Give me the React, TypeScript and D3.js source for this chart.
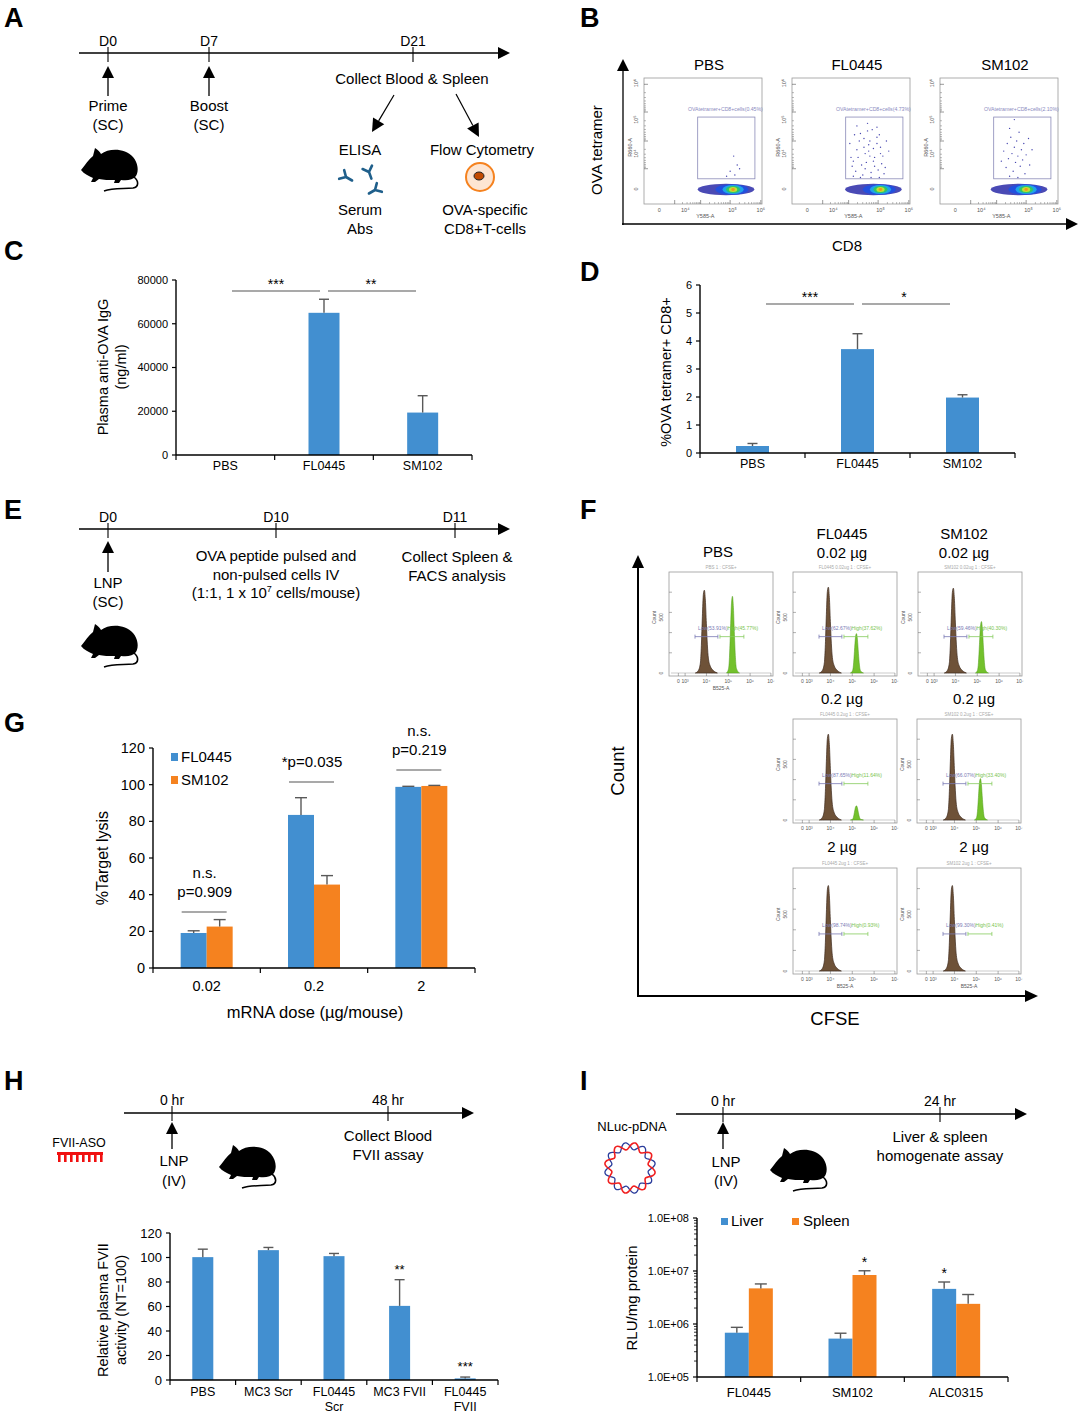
import React from 'react';
import * as d3 from 'd3';

const FONT = "'Liberation Sans', Arial, sans-serif";
const BLUE = '#428fd0';
const ORANGE = '#f5821f';
const ERRC = '#595959';

// C: plasma anti-OVA IgG (ng/ml)
const cGroups = ['PBS', 'FL0445', 'SM102'];
const cMeans = [0, 65000, 19400];
const cErr = [0, 6200, 7700];
const cTicks = [0, 20000, 40000, 60000, 80000];

// D: %OVA tetramer+ CD8+
const dGroups = ['PBS', 'FL0445', 'SM102'];
const dMeans = [0.25, 3.71, 1.98];
const dErr = [0.09, 0.55, 0.1];
const dTicks = [0, 1, 2, 3, 4, 5, 6];

// G: %target lysis
const gDoses = ['0.02', '0.2', '2'];
const gSeriesNames = ['FL0445', 'SM102'];
const gFL0445 = [19.1, 83.5, 98.8];
const gFL0445Err = [1.2, 9.4, 0.3];
const gSM102 = [22.6, 45.5, 99.3];
const gSM102Err = [3.8, 4.9, 0.3];
const gTicks = [0, 20, 40, 60, 80, 100, 120];
const gStats = [['n.s.', 'p=0.909'], ['*p=0.035'], ['n.s.', 'p=0.219']];

// H: relative plasma FVII activity
const hGroups = [['PBS'], ['MC3 Scr'], ['FL0445', 'Scr'], ['MC3 FVII'], ['FL0445', 'FVII']];
const hMeans = [100.3, 106, 101.1, 60.5, 1.3];
const hErr = [6.5, 2.2, 2.2, 21.4, 1.1];
const hStars = ['', '', '', '**', '***'];
const hTicks = [0, 20, 40, 60, 80, 100, 120];

// I: RLU/mg protein (log)
const iGroups = ['FL0445', 'SM102', 'ALC0315'];
const iSeriesNames = ['Liver', 'Spleen'];
const iLiver = [6.85e5, 5.3e5, 4.6e6];
const iLiverErr = [1.8e5, 1.4e5, 1.6e6];
const iSpleen = [4.7e6, 8.4e6, 2.4e6];
const iSpleenErr = [1.0e6, 1.7e6, 1.2e6];
const iStarsLiver = ['', '', '*'];
const iStarsSpleen = ['', '*', ''];
const iTicks = [1e5, 1e6, 1e7, 1e8];

// B: flow plots
const bTitles = ['PBS', 'FL0445', 'SM102'];
const bGatePct = ['0.45', '4.73', '2.10'];
const bBlobX = [0.755, 0.75, 0.73];
const bGateEvents = [
  [[0.76, 0.62], [0.79, 0.69], [0.73, 0.74], [0.81, 0.72], [0.70, 0.78], [0.77, 0.77]],
  [[0.49, 0.52], [0.50, 0.63], [0.51, 0.70], [0.53, 0.45], [0.52, 0.66], [0.55, 0.57], [0.54, 0.74], [0.57, 0.50],
   [0.56, 0.63], [0.59, 0.69], [0.58, 0.44], [0.61, 0.55], [0.60, 0.77], [0.62, 0.60], [0.61, 0.48], [0.63, 0.67],
   [0.62, 0.72], [0.65, 0.53], [0.64, 0.42], [0.66, 0.62], [0.65, 0.58], [0.67, 0.75], [0.66, 0.50], [0.69, 0.66],
   [0.68, 0.41], [0.70, 0.70], [0.69, 0.56], [0.72, 0.47], [0.70, 0.63], [0.73, 0.73], [0.72, 0.52], [0.75, 0.60],
   [0.74, 0.45], [0.76, 0.68], [0.75, 0.55], [0.78, 0.76], [0.77, 0.62], [0.80, 0.50], [0.79, 0.71], [0.82, 0.58],
   [0.52, 0.78], [0.58, 0.79], [0.67, 0.79], [0.74, 0.79], [0.55, 0.38], [0.72, 0.39], [0.64, 0.36]],
  [[0.52, 0.66], [0.54, 0.58], [0.56, 0.71], [0.57, 0.52], [0.58, 0.64], [0.60, 0.47], [0.61, 0.60], [0.62, 0.74],
   [0.63, 0.55], [0.64, 0.67], [0.65, 0.50], [0.66, 0.62], [0.67, 0.43], [0.68, 0.70], [0.69, 0.57], [0.70, 0.65],
   [0.71, 0.52], [0.72, 0.76], [0.73, 0.61], [0.75, 0.48], [0.76, 0.69], [0.78, 0.57], [0.59, 0.78], [0.66, 0.79],
   [0.59, 0.40], [0.63, 0.33]],
];

// F: CFSE histograms (PBS, FL 0.02, SM 0.02, FL 0.2, SM 0.2, FL 2, SM 2)
const fHeaders = ['PBS 1 : CFSE+', 'FL0445 0.02ug 1 : CFSE+', 'SM102 0.02ug 1 : CFSE+', 'FL0445 0.2ug 1 : CFSE+',
  'SM102 0.2ug 1 : CFSE+', 'FL0445 2ug 1 : CFSE+', 'SM102 2ug 1 : CFSE+'];
const fLowPeak = [0.82, 0.85, 0.84, 0.85, 0.85, 0.83, 0.83];
const fHighPeak = [0.76, 0.39, 0.51, 0.14, 0.41, 0.0, 0.0];
const fLowPct = ['53.91', '62.67', '59.46', '87.65', '66.07', '98.74', '99.30'];
const fHighPct = ['45.77', '37.62', '40.30', '11.64', '33.40', '0.93', '0.41'];
// peak outlines: [px offset from mode, fraction of peak height]
const brownShape = [[-9, 0], [-6, 0.03], [-4, 0.12], [-3, 0.33], [-2, 0.68], [-1, 0.95], [0, 1], [1, 0.88],
  [2, 0.6], [3, 0.34], [4, 0.18], [6, 0.08], [9, 0.03], [13, 0]];
const greenShape = [[-6, 0], [-4, 0.05], [-3, 0.2], [-2, 0.55], [-1, 0.9], [0, 1], [1, 0.85], [2, 0.5],
  [3, 0.2], [4, 0.06], [7, 0]];

const txt = (x, y, s, size = 15, anchor = 'middle', extra = {}) => (
  <text x={x} y={y} fontSize={size} textAnchor={anchor} fontFamily={FONT} {...extra}>{s}</text>
);

function Letter({ x, y, t }) {
  return <text x={x} y={y} fontSize={27} fontWeight="bold" fontFamily={FONT}>{t}</text>;
}

function HArrow({ x0, x1, y, head = 12, w = 1.3 }) {
  return (
    <g>
      <line x1={x0} x2={x1 - head + 1} y1={y} y2={y} stroke="#000" strokeWidth={w} />
      <polygon points={`${x1},${y} ${x1 - head},${y - 6} ${x1 - head},${y + 6}`} fill="#000" />
    </g>
  );
}

function UpArrow({ x, tip, bottom, head = 12, w = 1.3 }) {
  return (
    <g>
      <line x1={x} x2={x} y1={tip + head - 1} y2={bottom} stroke="#000" strokeWidth={w} />
      <polygon points={`${x},${tip} ${x - 6},${tip + head} ${x + 6},${tip + head}`} fill="#000" />
    </g>
  );
}

function Arrow({ x0, y0, x1, y1, head = 13 }) {
  const a = Math.atan2(y1 - y0, x1 - x0);
  const bx = x1 - head * Math.cos(a), by = y1 - head * Math.sin(a);
  const nx = -Math.sin(a) * 6.5, ny = Math.cos(a) * 6.5;
  return (
    <g>
      <line x1={x0} y1={y0} x2={bx} y2={by} stroke="#000" strokeWidth={1.2} />
      <polygon points={`${x1},${y1} ${bx + nx},${by + ny} ${bx - nx},${by - ny}`} fill="#000" />
    </g>
  );
}

function Mouse({ x, y, s = 1 }) {
  return (
    <g transform={`translate(${x},${y}) scale(${s})`}>
      <path d="M2,27 C6,22 10,16 14,13 L16,5 C19,7 21,9 22,11 C30,5 46,5 54,14 C59,20 60,28 57,33 C54,37 48,38 42,37 L40,40 L35,40 L36,37 C30,37 24,37 20,36 L16,39 L12,39 L14,35 C10,33 5,31 2,27 Z" fill="#000" />
      <path d="M55,34 C60,38 60,44 54,45 C44,46 34,45 25,48" fill="none" stroke="#000" strokeWidth={1.6} />
    </g>
  );
}

function TickMark({ x, y, label }) {
  return (
    <g>
      <line x1={x} x2={x} y1={y - 7} y2={y + 8} stroke="#000" strokeWidth={1.1} />
      {txt(x, y - 8, label, 14)}
    </g>
  );
}

function Antibody({ x, y, r }) {
  return (
    <g transform={`translate(${x},${y}) rotate(${r})`} stroke="#1f5f8b" strokeWidth={2.6} strokeLinecap="round" fill="none">
      <path d="M0,0 L0,7 M0,0 L-5,-5 M0,0 L5,-5" />
    </g>
  );
}

function PanelA() {
  return (
    <g>
      <Letter x={4} y={27} t="A" />
      <HArrow x0={79} x1={510} y={53} />
      <TickMark x={108} y={54} label="D0" />
      <TickMark x={209} y={54} label="D7" />
      <TickMark x={413} y={54} label="D21" />
      <UpArrow x={108} tip={66} bottom={96} />
      <UpArrow x={209} tip={66} bottom={96} />
      {txt(108, 111, 'Prime')}
      {txt(108, 130, '(SC)')}
      {txt(209, 111, 'Boost')}
      {txt(209, 130, '(SC)')}
      <Mouse x={79} y={143} />
      {txt(412, 84, 'Collect Blood & Spleen')}
      <Arrow x0={394} y0={95} x1={372} y1={132} />
      <Arrow x0={456} y0={94} x1={479} y1={137} />
      {txt(360, 155, 'ELISA')}
      {txt(482, 155, 'Flow Cytometry')}
      <Antibody x={346} y={177} r={-60} />
      <Antibody x={369} y={172} r={-20} />
      <Antibody x={375} y={190} r={60} />
      <circle cx={480} cy={177} r={14} fill="#fde5d2" stroke={ORANGE} strokeWidth={2} />
      <ellipse cx={479} cy={176} rx={5} ry={4} fill="#c24a00" stroke="#222" strokeWidth={1} />
      {txt(360, 215, 'Serum')}
      {txt(360, 234, 'Abs')}
      {txt(485, 215, 'OVA-specific')}
      {txt(485, 234, 'CD8+T-cells')}
    </g>
  );
}

function FlowPlot({ left, i }) {
  const top = 78, w = 118, h = 126;
  const fx = d3.scaleLinear().domain([0, 1]).range([left, left + w]);
  const fy = d3.scaleLinear().domain([0, 1]).range([top, top + h]);
  const decades = [0.26, 0.48, 0.73, 0.99];
  const minor = [];
  for (let d = 0; d < 3; d++) {
    for (let m = 2; m < 10; m++) minor.push(decades[d] + (decades[d + 1] - decades[d]) * Math.log10(m));
  }
  const ydec = [0.05, 0.27, 0.5, 0.72];
  const bx = bBlobX[i];
  const layers = [
    { rx: 0.24, ry: 0.045, c: '#2a2aa8', dx: -0.06 },
    { rx: 0.14, ry: 0.042, c: '#2050e0', dx: -0.01 },
    { rx: 0.09, ry: 0.036, c: '#20a8e8', dx: 0 },
    { rx: 0.06, ry: 0.028, c: '#30c860', dx: 0 },
    { rx: 0.035, ry: 0.02, c: '#c8e030', dx: 0 },
    { rx: 0.015, ry: 0.011, c: '#f09020', dx: 0 },
  ];
  return (
    <g>
      {txt(fx(0.55), 70, bTitles[i], 15)}
      <rect x={left} y={top} width={w} height={h} fill="#fff" stroke="#999" strokeWidth={0.8} />
      {minor.map((m, k) => (
        <line key={'mx' + k} x1={fx(m)} x2={fx(m)} y1={top + h} y2={top + h - 2} stroke="#777" strokeWidth={0.5} />
      ))}
      {decades.map((m, k) => (
        <line key={'dx' + k} x1={fx(m)} x2={fx(m)} y1={top + h} y2={top + h - 4} stroke="#555" strokeWidth={0.6} />
      ))}
      {ydec.map((m, k) => (
        <line key={'dy' + k} x1={left} x2={left + 4} y1={fy(m)} y2={fy(m)} stroke="#555" strokeWidth={0.6} />
      ))}
      {ydec.slice(0, 3).flatMap((m, k) => [2, 3, 4, 5, 6, 7, 8, 9].map(v => (
        <line key={'my' + k + v} x1={left} x2={left + 2} y1={fy(m + (ydec[k + 1] - m) * Math.log10(v))}
          y2={fy(m + (ydec[k + 1] - m) * Math.log10(v))} stroke="#777" strokeWidth={0.5} />
      )))}
      {['0', '10⁴', '10⁵', '10⁶'].map((l, k) => (
        <text key={'xl' + k} x={fx([0.13, 0.35, 0.75, 0.99][k])} y={top + h + 8} fontSize={5.5} textAnchor="middle" fill="#555" fontFamily={FONT}>{l}</text>
      ))}
      {txt(fx(0.52), top + h + 14, 'Y585-A', 5.5, 'middle', { fill: '#555' })}
      {['10⁶', '10⁵', '10⁴', '0'].map((l, k) => (
        <text key={'yl' + k} x={left - 6} y={fy([0.04, 0.33, 0.6, 0.88][k])} fontSize={5.5} textAnchor="middle" fill="#555"
          fontFamily={FONT} transform={`rotate(-90 ${left - 6} ${fy([0.04, 0.33, 0.6, 0.88][k])})`}>{l}</text>
      ))}
      <text x={left - 12} y={fy(0.55)} fontSize={5.5} textAnchor="middle" fill="#555" fontFamily={FONT}
        transform={`rotate(-90 ${left - 12} ${fy(0.55)})`}>R660-A</text>
      {txt(fx(0.69), fy(0.265), `OVAtetramer+CD8+cells(${bGatePct[i]}%)`, 5.2, 'middle', { fill: '#8a8ac0' })}
      <rect x={fx(0.455)} y={fy(0.31)} width={fx(0.94) - fx(0.455)} height={fy(0.8) - fy(0.31)} fill="none" stroke="#8a8ab8" strokeWidth={0.8} />
      {layers.map((l, k) => (
        <ellipse key={'b' + k} cx={fx(bx + l.dx)} cy={fy(0.885)} rx={l.rx * w} ry={l.ry * h} fill={l.c} opacity={k === 0 ? 0.85 : 0.95} />
      ))}
      {bGateEvents[i].map((p, k) => (
        <circle key={'e' + k} cx={fx(p[0])} cy={fy(p[1])} r={0.7} fill="#4848b0" />
      ))}
    </g>
  );
}

function PanelB() {
  return (
    <g>
      <Letter x={580} y={27} t="B" />
      <UpArrow x={623} tip={59} bottom={225} />
      <HArrow x0={622} x1={1078} y={224} />
      <text x={602} y={150} fontSize={15} textAnchor="middle" fontFamily={FONT} transform="rotate(-90 602 150)">OVA tetramer</text>
      {txt(847, 251, 'CD8', 15)}
      {[644, 792, 940].map((l, i) => <FlowPlot key={i} left={l} i={i} />)}
    </g>
  );
}

function ErrBar({ cx, y0, y1, cap = 5 }) {
  return (
    <g stroke={ERRC} strokeWidth={1.4}>
      <line x1={cx} x2={cx} y1={y0} y2={y1} />
      <line x1={cx - cap} x2={cx + cap} y1={y1} y2={y1} />
    </g>
  );
}

function YAxis({ x, y, ticks, fmt, size }) {
  const [b, t] = y.range();
  return (
    <g>
      <line x1={x} x2={x} y1={b} y2={t} stroke="#000" strokeWidth={1.4} />
      {ticks.map(v => (
        <g key={v}>
          <line x1={x - 4} x2={x} y1={y(v)} y2={y(v)} stroke="#000" strokeWidth={1.2} />
          <text x={x - 8} y={y(v)} dy="0.35em" textAnchor="end" fontSize={size} fontFamily={FONT}>{fmt(v)}</text>
        </g>
      ))}
    </g>
  );
}

function XAxis({ x, y0, size, labels, dy = 15 }) {
  const [l, r] = x.range();
  const bw = x.bandwidth();
  return (
    <g>
      <line x1={l} x2={r} y1={y0} y2={y0} stroke="#000" strokeWidth={1.6} />
      {x.domain().map(d => (
        <line key={'t' + d} x1={x(d)} x2={x(d)} y1={y0} y2={y0 + 5} stroke="#000" strokeWidth={1.2} />
      ))}
      <line x1={r} x2={r} y1={y0} y2={y0 + 5} stroke="#000" strokeWidth={1.2} />
      {x.domain().map((d, i) => (
        <text key={'l' + d} x={x(d) + bw / 2} y={y0 + dy} fontSize={size} textAnchor="middle" fontFamily={FONT}>
          {(labels ? labels[i] : [d]).map((s, k) => <tspan key={k} x={x(d) + bw / 2} dy={k === 0 ? 0 : size * 1.2}>{s}</tspan>)}
        </text>
      ))}
    </g>
  );
}

function PanelC() {
  const x = d3.scaleBand().domain(cGroups).range([176, 472]);
  const y = d3.scaleLinear().domain([0, 80000]).range([455, 280]);
  const bw = 31;
  const cx = g => x(g) + x.bandwidth() / 2;
  return (
    <g>
      <Letter x={4} y={260} t="C" />
      {cGroups.map((g, i) => cMeans[i] > 0 && (
        <g key={g}>
          <rect x={cx(g) - bw / 2} y={y(cMeans[i])} width={bw} height={y(0) - y(cMeans[i])} fill={BLUE} />
          <ErrBar cx={cx(g)} y0={y(cMeans[i])} y1={y(cMeans[i] + cErr[i])} />
        </g>
      ))}
      <YAxis x={176} y={y} ticks={cTicks} fmt={v => String(v)} size={11} />
      <XAxis x={x} y0={455} size={12.5} />
      <line x1={232} x2={320} y1={291} y2={291} stroke="#555" strokeWidth={1.1} />
      <line x1={328} x2={416} y1={291} y2={291} stroke="#555" strokeWidth={1.1} />
      {txt(276, 289, '***', 14)}
      {txt(371, 289, '**', 14)}
      <text fontSize={14.5} textAnchor="middle" fontFamily={FONT} transform="translate(108,367) rotate(-90)">
        <tspan x={0} y={0}>Plasma anti-OVA IgG</tspan>
        <tspan x={0} y={18}>(ng/ml)</tspan>
      </text>
    </g>
  );
}

function PanelD() {
  const x = d3.scaleBand().domain(dGroups).range([700, 1015]);
  const y = d3.scaleLinear().domain([0, 6]).range([453, 285]);
  const bw = 33;
  const cx = g => x(g) + x.bandwidth() / 2;
  return (
    <g>
      <Letter x={580} y={281} t="D" />
      {dGroups.map((g, i) => (
        <g key={g}>
          <rect x={cx(g) - bw / 2} y={y(dMeans[i])} width={bw} height={y(0) - y(dMeans[i])} fill={BLUE} />
          <ErrBar cx={cx(g)} y0={y(dMeans[i])} y1={y(dMeans[i] + dErr[i])} />
        </g>
      ))}
      <YAxis x={700} y={y} ticks={dTicks} fmt={v => String(v)} size={11} />
      <XAxis x={x} y0={453} size={12.5} />
      <line x1={766} x2={854} y1={304} y2={304} stroke="#555" strokeWidth={1.1} />
      <line x1={862} x2={950} y1={304} y2={304} stroke="#555" strokeWidth={1.1} />
      {txt(810, 302, '***', 14)}
      {txt(904, 302, '*', 14)}
      <text x={671} y={372} fontSize={14.5} textAnchor="middle" fontFamily={FONT} transform="rotate(-90 671 372)">%OVA tetramer+ CD8+</text>
    </g>
  );
}

function PanelE() {
  return (
    <g>
      <Letter x={4} y={519} t="E" />
      <HArrow x0={79} x1={510} y={529} />
      <TickMark x={108} y={530} label="D0" />
      <TickMark x={276} y={530} label="D10" />
      <TickMark x={455} y={530} label="D11" />
      <UpArrow x={108} tip={541} bottom={572} />
      {txt(108, 588, 'LNP')}
      {txt(108, 607, '(SC)')}
      <Mouse x={79} y={619} />
      {txt(276, 561, 'OVA peptide pulsed and')}
      {txt(276, 580, 'non-pulsed cells IV')}
      <text x={276} y={598} fontSize={15} textAnchor="middle" fontFamily={FONT}>
        (1:1, 1 x 10<tspan fontSize={9} dy={-6}>7</tspan><tspan dy={6}> cells/mouse)</tspan>
      </text>
      {txt(457, 562, 'Collect Spleen &')}
      {txt(457, 581, 'FACS analysis')}
    </g>
  );
}

function Hist({ left, top, i, h = 104, xLabel = false }) {
  const w = 104;
  const base = top + h - 3;
  const px = d3.scaleLinear().domain([0, 1]).range([left, left + w]);
  const py = d3.scaleLinear().domain([0, 1]).range([base, top]);
  const peak = (center, height, shape) => d3.area()
    .x(d => px(center) + d[0])
    .y0(base)
    .y1(d => py(height * d[1]))
    .curve(d3.curveMonotoneX)(shape);
  const xt = [0.09, 0.155, 0.36, 0.57, 0.78, 0.98];
  const xtl = ['0', '10³', '10⁴', '10⁵', '10⁶', '10⁷'];
  return (
    <g>
      {txt(px(0.5), top - 3, fHeaders[i], 4.5, 'middle', { fill: '#aaa' })}
      <rect x={left} y={top} width={w} height={h} fill="#fff" stroke="#999" strokeWidth={0.8} />
      <line x1={left + 2} x2={left + w - 2} y1={base} y2={base} stroke="#aaa" strokeWidth={0.6} />
      {xt.map((t, k) => (
        <g key={k}>
          <line x1={px(t)} x2={px(t)} y1={top + h} y2={top + h - 3} stroke="#666" strokeWidth={0.5} />
          <text x={px(t)} y={top + h + 7} fontSize={5} textAnchor="middle" fill="#555" fontFamily={FONT}>{xtl[k]}</text>
        </g>
      ))}
      {[0.2, 0.4, 0.6, 0.8].map(t => (
        <line key={t} x1={left} x2={left + 3} y1={py(t)} y2={py(t)} stroke="#666" strokeWidth={0.5} />
      ))}
      {xLabel && txt(px(0.5), top + h + 14, 'B525-A', 5, 'middle', { fill: '#555' })}
      <text x={left - 6} y={py(0.55)} fontSize={5} textAnchor="middle" fill="#555" fontFamily={FONT}
        transform={`rotate(-90 ${left - 6} ${py(0.55)})`}>500</text>
      <text x={left - 6} y={base} fontSize={5} textAnchor="middle" fill="#555" fontFamily={FONT}
        transform={`rotate(-90 ${left - 6} ${base})`}>0</text>
      <text x={left - 13} y={py(0.55)} fontSize={5} textAnchor="middle" fill="#555" fontFamily={FONT}
        transform={`rotate(-90 ${left - 13} ${py(0.55)})`}>Count</text>
      <path d={peak(0.34, fLowPeak[i], brownShape)} fill="#6e5238" stroke="#3d2a1c" strokeWidth={0.7} />
      {fHighPeak[i] > 0 && <path d={peak(0.61, fHighPeak[i], greenShape)} fill="#73c12c" stroke="#4f9a18" strokeWidth={0.5} />}
      <g stroke="#7a7ab4" strokeWidth={0.8}>
        <line x1={px(0.25)} x2={px(0.47)} y1={py(0.36)} y2={py(0.36)} />
        <line x1={px(0.25)} x2={px(0.25)} y1={py(0.36) - 2} y2={py(0.36) + 2} />
        <line x1={px(0.47)} x2={px(0.47)} y1={py(0.36) - 2} y2={py(0.36) + 2} />
      </g>
      <g stroke="#86cc5e" strokeWidth={0.8}>
        <line x1={px(0.49)} x2={px(0.72)} y1={py(0.36)} y2={py(0.36)} />
        <line x1={px(0.49)} x2={px(0.49)} y1={py(0.36) - 2} y2={py(0.36) + 2} />
        <line x1={px(0.72)} x2={px(0.72)} y1={py(0.36) - 2} y2={py(0.36) + 2} />
      </g>
      <text x={px(0.28)} y={py(0.43)} fontSize={5} fontFamily={FONT}>
        <tspan fill="#7a7ab4">Low({fLowPct[i]}%)</tspan><tspan fill="#79c44e">High({fHighPct[i]}%)</tspan>
      </text>
    </g>
  );
}

function PanelF() {
  return (
    <g>
      <Letter x={580} y={519} t="F" />
      <UpArrow x={638} tip={555} bottom={996} head={13} w={2} />
      <HArrow x0={637} x1={1038} y={996} head={13} w={2} />
      <text x={624} y={771} fontSize={18.5} textAnchor="middle" fontFamily={FONT} transform="rotate(-90 624 771)">Count</text>
      {txt(835, 1025, 'CFSE', 18.5)}
      {txt(718, 557, 'PBS')}
      {txt(842, 539, 'FL0445')}
      {txt(842, 558, '0.02 µg')}
      {txt(964, 539, 'SM102')}
      {txt(964, 558, '0.02 µg')}
      {txt(842, 704, '0.2 µg')}
      {txt(974, 704, '0.2 µg')}
      {txt(842, 852, '2 µg')}
      {txt(974, 852, '2 µg')}
      <Hist left={669} top={572} i={0} xLabel />
      <Hist left={793} top={572} i={1} />
      <Hist left={918} top={572} i={2} />
      <Hist left={793} top={719} i={3} />
      <Hist left={917} top={719} i={4} />
      <Hist left={793} top={868} i={5} h={106} xLabel />
      <Hist left={917} top={868} i={6} h={106} xLabel />
    </g>
  );
}

function PanelG() {
  const x = d3.scaleBand().domain(gDoses).range([153, 475]);
  const y = d3.scaleLinear().domain([0, 120]).range([968, 748]);
  const bw = 26;
  const series = [
    { v: gFL0445, e: gFL0445Err, c: BLUE },
    { v: gSM102, e: gSM102Err, c: ORANGE },
  ];
  const cx = g => x(g) + x.bandwidth() / 2;
  return (
    <g>
      <Letter x={4} y={732} t="G" />
      {series.map((s, si) => gDoses.map((g, i) => {
        const left = cx(g) - bw + si * bw;
        return (
          <g key={si + g}>
            <rect x={left} y={y(s.v[i])} width={bw} height={y(0) - y(s.v[i])} fill={s.c} />
            <ErrBar cx={left + bw / 2} y0={y(s.v[i])} y1={y(s.v[i] + s.e[i])} cap={6} />
          </g>
        );
      }))}
      <YAxis x={153} y={y} ticks={gTicks} fmt={v => String(v)} size={14.5} />
      <XAxis x={x} y0={968} size={14.5} dy={23} />
      {gStats.map((lines, i) => {
        const c = cx(gDoses[i]);
        const lineY = [912, 782, 770][i];
        return (
          <g key={i}>
            <line x1={c - 25} x2={c + 20} y1={lineY} y2={lineY} stroke="#555" strokeWidth={1.2} />
            {lines.map((s, k) => txt(c - 2, lineY - 15 - (lines.length - 1 - k) * 19, s, 15, 'middle', { key: k }))}
          </g>
        );
      })}
      {gSeriesNames.map((n, i) => (
        <g key={n}>
          <rect x={171} y={753 + i * 23} width={7} height={8} fill={i === 0 ? BLUE : ORANGE} />
          {txt(181, 762 + i * 23, n, 15, 'start')}
        </g>
      ))}
      <text x={108} y={858} fontSize={16} textAnchor="middle" fontFamily={FONT} transform="rotate(-90 108 858)">%Target lysis</text>
      {txt(315, 1018, 'mRNA dose (µg/mouse)', 16.5)}
    </g>
  );
}

function PanelH() {
  const keys = hGroups.map((_, i) => String(i));
  const x = d3.scaleBand().domain(keys).range([170, 498]);
  const y = d3.scaleLinear().domain([0, 120]).range([1380, 1233]);
  const bw = 21;
  const cx = k => x(k) + x.bandwidth() / 2;
  return (
    <g>
      <Letter x={4} y={1090} t="H" />
      <HArrow x0={124} x1={474} y={1113} />
      <TickMark x={172} y={1113} label="0 hr" />
      <TickMark x={388} y={1113} label="48 hr" />
      <UpArrow x={172} tip={1122} bottom={1149} />
      {txt(174, 1166, 'LNP')}
      {txt(174, 1186, '(IV)')}
      <Mouse x={217} y={1140} />
      {txt(388, 1141, 'Collect Blood')}
      {txt(388, 1160, 'FVII assay')}
      {txt(79, 1147, 'FVII-ASO', 12.5)}
      <rect x={57} y={1152} width={46} height={3} fill="#f01010" />
      {[0, 1, 2, 3, 4, 5, 6, 7].map(k => (
        <rect key={k} x={58 + k * 6} y={1154} width={2.6} height={8} fill="#f01010" />
      ))}
      {keys.map((k, i) => (
        <g key={k}>
          <rect x={cx(k) - bw / 2} y={y(hMeans[i])} width={bw} height={y(0) - y(hMeans[i])} fill={BLUE} />
          <ErrBar cx={cx(k)} y0={y(hMeans[i])} y1={y(hMeans[i] + hErr[i])} />
          {hStars[i] && txt(cx(k), y(hMeans[i] + hErr[i]) - 6, hStars[i], 13)}
        </g>
      ))}
      <YAxis x={170} y={y} ticks={hTicks} fmt={v => String(v)} size={13} />
      <XAxis x={x} y0={1380} size={12.5} labels={hGroups} dy={16} />
      <text fontSize={14.5} textAnchor="middle" fontFamily={FONT} transform="translate(108,1310) rotate(-90)">
        <tspan x={0} y={0}>Relative plasma FVII</tspan>
        <tspan x={0} y={18}>activity (NT=100)</tspan>
      </text>
    </g>
  );
}

function Plasmid({ cx, cy, r }) {
  const wave = (sign) => {
    const pts = d3.range(0, 121).map(k => {
      const a = (k / 120) * Math.PI * 2;
      const rr = r + sign * 3.5 * Math.sin(a * 8);
      return [cx + rr * Math.cos(a), cy + rr * Math.sin(a)];
    });
    return d3.line().curve(d3.curveCardinalClosed)(pts);
  };
  return (
    <g fill="none">
      <path d={wave(-1)} stroke="#2a3c9c" strokeWidth={1.3} />
      <path d={wave(1)} stroke="#f02020" strokeWidth={1.6} />
    </g>
  );
}

function PanelI() {
  const x = d3.scaleBand().domain(iGroups).range([697, 1008]);
  const y = d3.scaleLog().domain([1e5, 1e8]).range([1377, 1218]);
  const bw = 24;
  const series = [
    { v: iLiver, e: iLiverErr, c: BLUE, s: iStarsLiver },
    { v: iSpleen, e: iSpleenErr, c: ORANGE, s: iStarsSpleen },
  ];
  const cx = g => x(g) + x.bandwidth() / 2;
  const minor = [];
  for (let p = 5; p < 8; p++) for (let m = 2; m < 10; m++) minor.push(m * Math.pow(10, p));
  return (
    <g>
      <Letter x={580} y={1090} t="I" />
      <HArrow x0={676} x1={1027} y={1114} />
      <TickMark x={723} y={1114} label="0 hr" />
      <TickMark x={940} y={1114} label="24 hr" />
      <UpArrow x={723} tip={1122} bottom={1149} />
      {txt(726, 1167, 'LNP')}
      {txt(726, 1186, '(IV)')}
      <Mouse x={768} y={1143} />
      {txt(940, 1142, 'Liver & spleen')}
      {txt(940, 1161, 'homogenate assay')}
      {txt(632, 1131, 'NLuc-pDNA', 13)}
      <Plasmid cx={630} cy={1168} r={22} />
      {series.map((s, si) => iGroups.map((g, i) => {
        const left = cx(g) - bw + si * bw;
        return (
          <g key={si + g}>
            <rect x={left} y={y(s.v[i])} width={bw} height={y(1e5) - y(s.v[i])} fill={s.c} />
            <ErrBar cx={left + bw / 2} y0={y(s.v[i])} y1={y(s.v[i] + s.e[i])} cap={6} />
            {s.s[i] && txt(left + bw / 2, y(s.v[i] + s.e[i]) - 4, s.s[i], 14)}
          </g>
        );
      }))}
      {minor.map(m => (
        <line key={m} x1={694} x2={697} y1={y(m)} y2={y(m)} stroke="#000" strokeWidth={0.8} />
      ))}
      <YAxis x={697} y={y} ticks={iTicks} fmt={v => `1.0E+0${Math.round(Math.log10(v))}`} size={11} />
      <XAxis x={x} y0={1377} size={13} dy={20} />
      {iSeriesNames.map((n, i) => (
        <g key={n}>
          <rect x={721 + i * 71} y={1218} width={7} height={7} fill={i === 0 ? BLUE : ORANGE} />
          {txt(731 + i * 72, 1226, n, 15, 'start')}
        </g>
      ))}
      <text x={637} y={1298} fontSize={15} textAnchor="middle" fontFamily={FONT} transform="rotate(-90 637 1298)">RLU/mg protein</text>
    </g>
  );
}

export default function App() {
  return (
    <svg width={1080} height={1417} viewBox="0 0 1080 1417"
      style={{ position: 'absolute', left: 0, top: 0, background: '#fff' }} fontFamily={FONT}>
      <rect width={1080} height={1417} fill="#fff" />
      <PanelA />
      <PanelB />
      <PanelC />
      <PanelD />
      <PanelE />
      <PanelF />
      <PanelG />
      <PanelH />
      <PanelI />
    </svg>
  );
}
